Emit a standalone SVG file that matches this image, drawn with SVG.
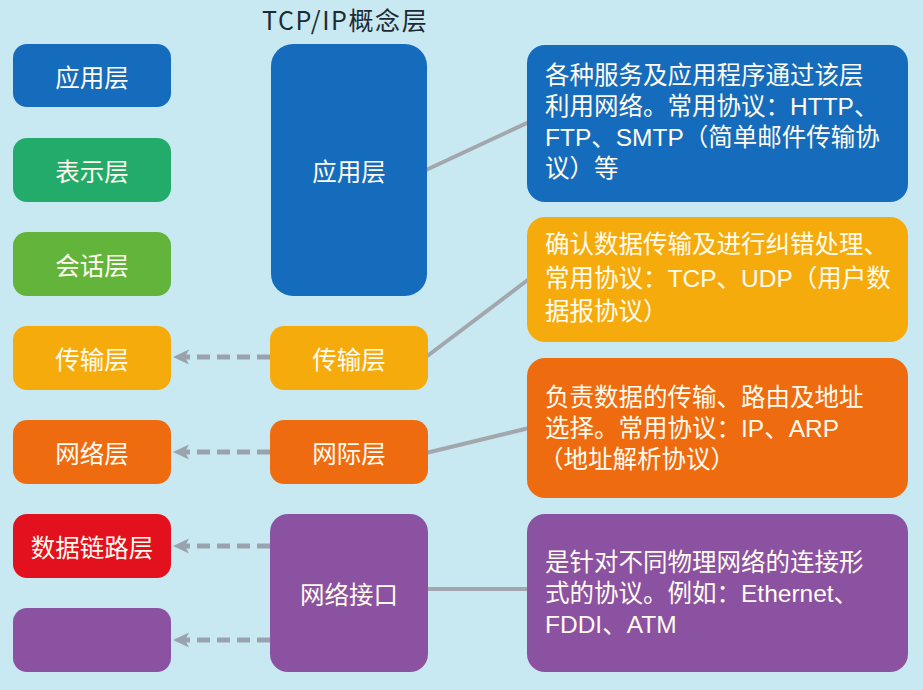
<svg xmlns="http://www.w3.org/2000/svg" width="923" height="690" viewBox="0 0 923 690">
<defs>
<style>
.lbl{font-family:"Noto Sans CJK SC","Noto Sans",sans-serif;font-size:24.5px;fill:#fffbef;text-anchor:middle;dominant-baseline:central}
.desc{font-family:"Liberation Sans","Noto Sans CJK SC",sans-serif;font-size:24.5px;fill:#fffbef}
.title{font-family:"Noto Sans CJK SC","Noto Sans",sans-serif;font-size:25px;letter-spacing:1.6px;fill:#1e2a33}
.solid{stroke:#a2a7ad;stroke-width:4;fill:none}
.dash{stroke:#9aa3ad;stroke-width:5;fill:none;stroke-dasharray:13 7}
.head{fill:#9aa3ad}
</style>
</defs>
<rect width="923" height="690" fill="#c8e9f2"/>

<text class="title" x="262" y="30">TCP/IP概念层</text>

<g id="connectors">
<line class="solid" x1="426" y1="170" x2="529" y2="122"/>
<line class="solid" x1="426" y1="357" x2="529" y2="279"/>
<line class="solid" x1="426" y1="453" x2="529" y2="428"/>
<line class="solid" x1="426" y1="589" x2="529" y2="589"/>
<line class="dash" x1="270" y1="357" x2="184" y2="357"/>
<path class="head" d="M173,357 L189,349.5 L185,357 L189,364.5 Z"/>
<line class="dash" x1="270" y1="452" x2="184" y2="452"/>
<path class="head" d="M173,452 L189,444.5 L185,452 L189,459.5 Z"/>
<line class="dash" x1="270" y1="546" x2="184" y2="546"/>
<path class="head" d="M173,546 L189,538.5 L185,546 L189,553.5 Z"/>
<line class="dash" x1="270" y1="640" x2="184" y2="640"/>
<path class="head" d="M173,640 L189,632.5 L185,640 L189,647.5 Z"/>
</g>

<g id="osi-app"><rect x="13" y="44" width="158" height="63" rx="14" fill="#166cbc"/><text class="lbl" x="92" y="76">应用层</text></g>
<g id="osi-pres"><rect x="13" y="138" width="158" height="64" rx="14" fill="#22ab6a"/><text class="lbl" x="92" y="170">表示层</text></g>
<g id="osi-sess"><rect x="13" y="232" width="158" height="64" rx="14" fill="#62b43a"/><text class="lbl" x="92" y="264">会话层</text></g>
<g id="osi-trans"><rect x="13" y="326" width="158" height="64" rx="14" fill="#f6ab0c"/><text class="lbl" x="92" y="358">传输层</text></g>
<g id="osi-net"><rect x="13" y="420" width="158" height="64" rx="14" fill="#ee6b10"/><text class="lbl" x="92" y="452">网络层</text></g>
<g id="osi-link"><rect x="13" y="514" width="158" height="64" rx="14" fill="#e3101e"/><text class="lbl" x="92" y="546">数据链路层</text></g>
<g id="osi-phys"><rect x="13" y="608" width="158" height="64" rx="14" fill="#8b52a1"/></g>

<g id="tcp-app"><rect x="271" y="44" width="156" height="252" rx="22" fill="#166cbc"/><text class="lbl" x="349" y="170">应用层</text></g>
<g id="tcp-trans"><rect x="270" y="326" width="158" height="64" rx="14" fill="#f6ab0c"/><text class="lbl" x="349" y="358">传输层</text></g>
<g id="tcp-inet"><rect x="270" y="420" width="158" height="64" rx="14" fill="#ee6b10"/><text class="lbl" x="349" y="452">网际层</text></g>
<g id="tcp-link"><rect x="270" y="514" width="158" height="158" rx="18" fill="#8b52a1"/><text class="lbl" x="349" y="593">网络接口</text></g>

<g id="desc-app"><rect x="527" y="45" width="381" height="157" rx="18" fill="#166cbc"/>
<text class="desc"><tspan x="545" y="84">各种服务及应用程序通过该层</tspan><tspan x="545" y="115">利用网络。常用协议：HTTP、</tspan><tspan x="545" y="146">FTP、SMTP（简单邮件传输协</tspan><tspan x="545" y="177">议）等</tspan></text></g>

<g id="desc-trans"><rect x="527" y="217" width="381" height="125" rx="18" fill="#f6ab0c"/>
<text class="desc"><tspan x="545" y="253">确认数据传输及进行纠错处理、</tspan><tspan x="545" y="287">常用协议：TCP、UDP（用户数</tspan><tspan x="545" y="320">据报协议）</tspan></text></g>

<g id="desc-inet"><rect x="527" y="358" width="381" height="140" rx="18" fill="#ee6b10"/>
<text class="desc"><tspan x="545" y="406">负责数据的传输、路由及地址</tspan><tspan x="545" y="437">选择。常用协议：IP、ARP</tspan><tspan x="539" y="468">（地址解析协议）</tspan></text></g>

<g id="desc-link"><rect x="527" y="514" width="381" height="158" rx="18" fill="#8b52a1"/>
<text class="desc"><tspan x="545" y="571">是针对不同物理网络的连接形</tspan><tspan x="545" y="602">式的协议。例如：Ethernet、</tspan><tspan x="545" y="633">FDDI、ATM</tspan></text></g>
</svg>
